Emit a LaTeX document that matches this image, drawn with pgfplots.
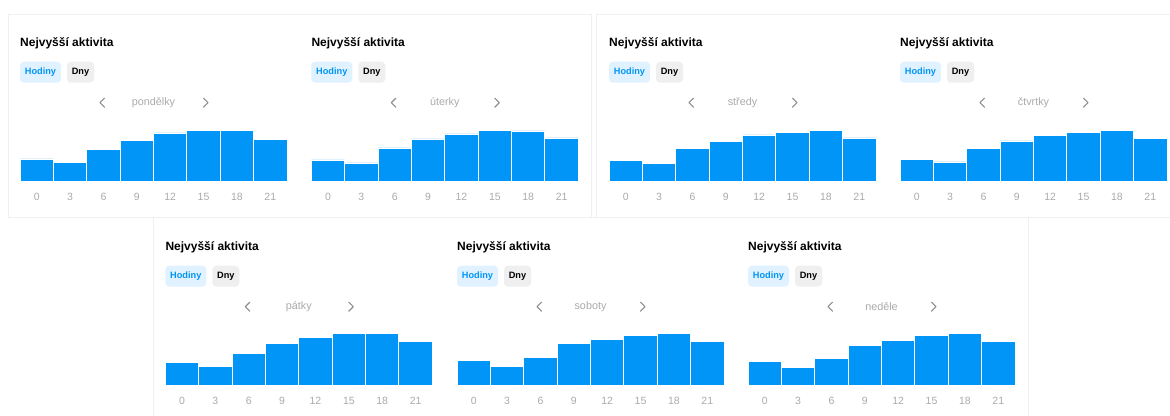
\documentclass[border=0pt]{standalone}
\usepackage{pgfplots}
\usepackage{pgfplotstable}
\pgfplotsset{compat=1.18}
\usepackage{fontspec}
\setmainfont{Liberation Sans}

\definecolor{igblue}{HTML}{0095F6}
\definecolor{btnblue}{HTML}{E0F1FF}
\definecolor{btngray}{HTML}{EFEFEF}
\definecolor{lbl}{HTML}{ABABAB}
\definecolor{chev}{HTML}{8E8E8E}
\definecolor{edge}{HTML}{F0F0F0}

% relative activity per 3-hour slot, one column per weekday
\pgfplotstableread{
h  po   ut   st   ct   pa   so   ne
0  22.7 21.7 21.3 22.0 23.7 25.3 24.7
3  19.0 18.7 18.0 19.7 19.3 19.0 18.0
6  32.0 33.7 33.3 33.3 32.7 28.0 27.7
9  41.3 42.7 40.3 40.7 42.3 42.7 40.3
12 48.7 47.7 46.7 46.3 48.3 46.0 45.7
15 51.0 51.0 49.3 49.3 52.0 50.0 50.3
18 51.3 50.7 51.0 51.0 52.0 52.0 52.0
21 42.3 43.7 43.7 43.0 44.3 44.7 44.0
}\activity

\pgfplotsset{hourbars/.style={
  ybar, bar width=3, bar shift=0pt,
  scale only axis, width=267bp, height=60bp,
  xmin=-1.5, xmax=22.5, ymin=0, ymax=60,
  enlargelimits=false, clip=false,
  axis line style={draw=none}, tick style={draw=none},
  ytick=\empty,
  xtick={0,3,6,9,12,15,18,21},
  xticklabels={0,3,6,9,12,15,18,21},
  xticklabel style={font=\fontsize{10.5bp}{12bp}\selectfont, text=lbl,
    anchor=center, yshift=-11bp},
}}

% #1 left edge, #2 baseline (bp from page bottom), #3 column, #4 day
\newcommand{\panel}[4]{%
  \node[anchor=west, inner sep=0, font=\fontsize{12bp}{14bp}\selectfont\bfseries]
    at (#1,#2+138) {Nejvyšší aktivita};
  \fill[btnblue, rounded corners=4bp] (#1,#2+99) rectangle (#1+41,#2+120);
  \node[font=\fontsize{9.2bp}{10bp}\selectfont\bfseries, text=igblue, inner sep=0]
    at (#1+20.5,#2+109.5) {Hodiny};
  \fill[btngray, rounded corners=4bp] (#1+47,#2+99) rectangle (#1+74,#2+120);
  \node[font=\fontsize{9.2bp}{10bp}\selectfont\bfseries, inner sep=0]
    at (#1+60.5,#2+109.5) {Dny};
  \draw[chev, line width=1.1bp, line cap=round, line join=round]
    (#1+84.5,#2+83.5) -- (#1+80,#2+79) -- (#1+84.5,#2+74.5);
  \draw[chev, line width=1.1bp, line cap=round, line join=round]
    (#1+183.5,#2+83.5) -- (#1+188,#2+79) -- (#1+183.5,#2+74.5);
  \node[font=\fontsize{10.8bp}{12bp}\selectfont, text=lbl, inner sep=0]
    at (#1+133.5,#2+79) {#4};
  \begin{axis}[hourbars, at={(#1bp,#2bp)}, anchor=south west]
    \addplot[fill=igblue, draw=white, line width=0.9bp] table[x=h, y=#3] {\activity};
  \end{axis}
}

\begin{document}
\begin{tikzpicture}[x=1bp, y=1bp]
  \useasboundingbox (0,0) rectangle (1170,415);
  \fill[white] (0,0) rectangle (1170,415);
  % cards
  \draw[edge, fill=white, line width=0.7bp] (8,401) rectangle (591,197.5);
  \draw[edge, fill=white, line width=0.7bp] (596,401) rectangle (1180,197.5);
  \draw[edge, fill=white, line width=0.7bp] (153,-5) rectangle (1028,197.5);

  \panel{20}{233.3}{po}{pondělky}
  \panel{311.3}{233.3}{ut}{úterky}
  \panel{609}{233.3}{st}{středy}
  \panel{900}{233.3}{ct}{čtvrtky}
  \panel{165.3}{29.3}{pa}{pátky}
  \panel{457}{29.3}{so}{soboty}
  \panel{748}{29.3}{ne}{neděle}
\end{tikzpicture}
\end{document}
